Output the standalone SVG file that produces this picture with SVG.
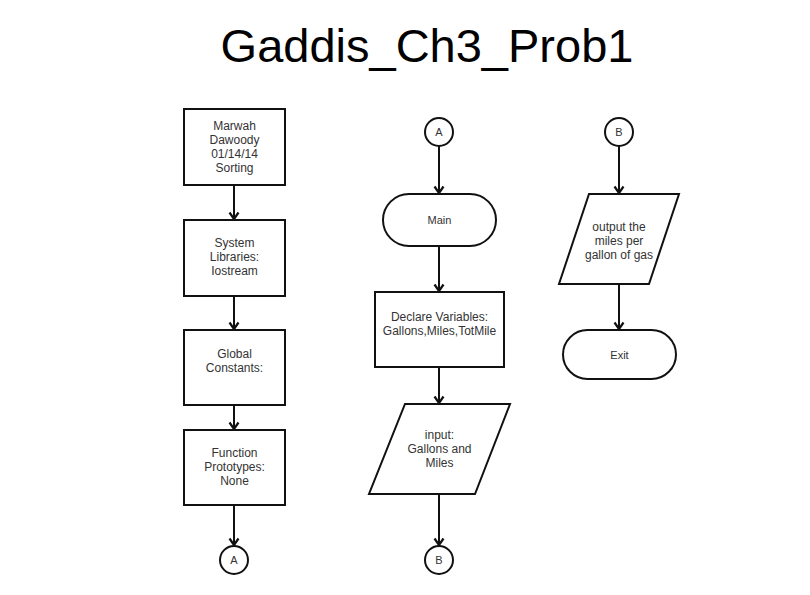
<svg xmlns="http://www.w3.org/2000/svg" width="810" height="595" viewBox="0 0 810 595">
<defs>
<marker id="arr" markerUnits="userSpaceOnUse" markerWidth="12" markerHeight="12" viewBox="0 0 12 12" refX="10" refY="6" orient="auto">
<path d="M3.5,1.5 L10,6 L3.5,10.5" fill="none" stroke="#111" stroke-width="2.2"/>
</marker>
</defs>
<style>
.shape{fill:#fff;stroke:#111;stroke-width:2}
.t{font-family:"Liberation Sans",Arial,sans-serif;font-size:12px;fill:#333;text-anchor:middle}
.s{font-family:"Liberation Sans",Arial,sans-serif;font-size:11px;fill:#333;text-anchor:middle}
.c{stroke:#111;stroke-width:2;fill:none;marker-end:url(#arr)}
</style>
<rect width="810" height="595" fill="#fff"/>
<text x="427" y="62" font-family="'Liberation Sans',Arial,sans-serif" font-size="47" text-anchor="middle" fill="#000">Gaddis_Ch3_Prob1</text>
<g id="connectors">
<line class="c" x1="234" y1="185" x2="234" y2="219"/>
<line class="c" x1="234" y1="296" x2="234" y2="329"/>
<line class="c" x1="234" y1="405" x2="234" y2="429"/>
<line class="c" x1="234" y1="505" x2="234" y2="545"/>
<line class="c" x1="439" y1="146" x2="439" y2="193"/>
<line class="c" x1="439" y1="246" x2="439" y2="291"/>
<line class="c" x1="439" y1="367" x2="439" y2="403"/>
<line class="c" x1="439" y1="494" x2="439" y2="545"/>
<line class="c" x1="619" y1="146" x2="619" y2="193"/>
<line class="c" x1="619" y1="284" x2="619" y2="329"/>
</g>
<g id="n1"><rect class="shape" x="184" y="109" width="101" height="76"/>
<text class="t" x="234.5" y="130">Marwah</text><text class="t" x="234.5" y="144">Dawoody</text><text class="t" x="234.5" y="158">01/14/14</text><text class="t" x="234.5" y="172">Sorting</text></g>
<g id="n2"><rect class="shape" x="184" y="220" width="101" height="76"/>
<text class="t" x="234.5" y="247">System</text><text class="t" x="234.5" y="261">Libraries:</text><text class="t" x="234.5" y="275">Iostream</text></g>
<g id="n3"><rect class="shape" x="184" y="330" width="101" height="75"/>
<text class="t" x="234.5" y="358">Global</text><text class="t" x="234.5" y="372">Constants:</text></g>
<g id="n4"><rect class="shape" x="184" y="430" width="101" height="75"/>
<text class="t" x="234.5" y="457">Function</text><text class="t" x="234.5" y="471">Prototypes:</text><text class="t" x="234.5" y="485">None</text></g>
<g id="n5"><circle class="shape" cx="234" cy="560" r="14"/><text class="s" x="234" y="564">A</text></g>
<g id="n6"><circle class="shape" cx="439" cy="132" r="14"/><text class="s" x="439" y="136">A</text></g>
<g id="n7"><rect class="shape" x="383" y="194" width="113" height="52" rx="26" ry="26"/><text class="s" x="439.5" y="224">Main</text></g>
<g id="n8"><rect class="shape" x="375" y="292" width="129" height="75"/>
<text class="t" x="439.5" y="321">Declare Variables:</text><text class="t" x="439.5" y="335">Gallons,Miles,TotMile</text></g>
<g id="n9"><polygon class="shape" points="405,404 510,404 475,494 369,494"/>
<text class="t" x="439.5" y="439">input:</text><text class="t" x="439.5" y="453">Gallons and</text><text class="t" x="439.5" y="467">Miles</text></g>
<g id="n10"><circle class="shape" cx="439" cy="560" r="14"/><text class="s" x="439" y="564">B</text></g>
<g id="n11"><circle class="shape" cx="619" cy="132" r="14"/><text class="s" x="619" y="136">B</text></g>
<g id="n12"><polygon class="shape" points="589,194 679,194 649,284 559,284"/>
<text class="t" x="619" y="231">output the</text><text class="t" x="619" y="245">miles per</text><text class="t" x="619" y="259">gallon of gas</text></g>
<g id="n13"><rect class="shape" x="563" y="330" width="113" height="49" rx="24.5" ry="24.5"/><text class="s" x="619.5" y="359">Exit</text></g>
</svg>
